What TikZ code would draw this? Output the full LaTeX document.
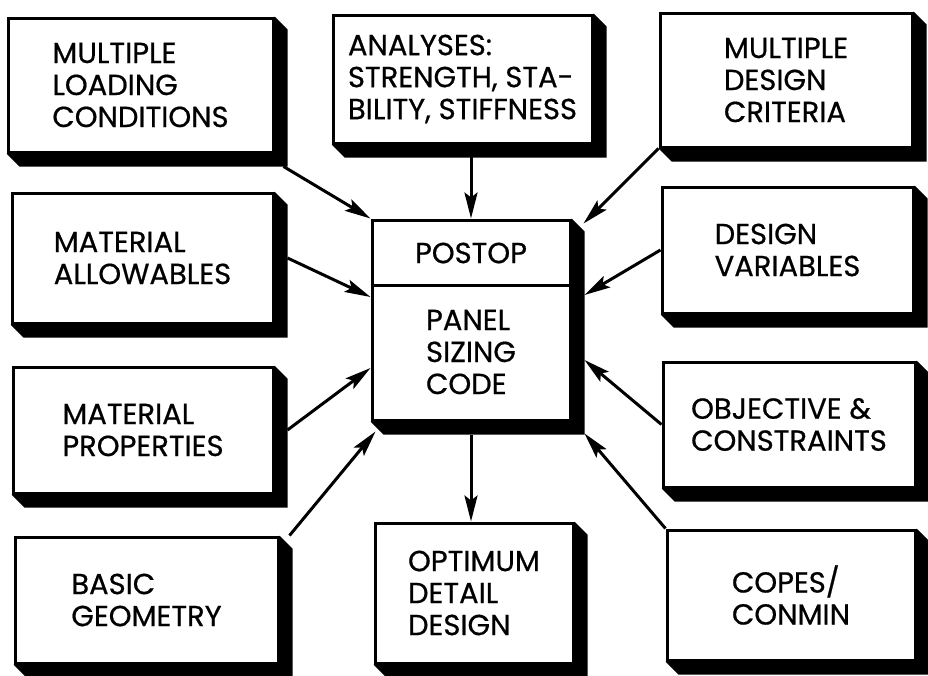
\documentclass[tikz,border=0pt]{standalone}
\usepackage{fontspec}
\setmainfont{Poppins}[FakeBold=0.6]
\usetikzlibrary{arrows.meta,calc,backgrounds}

\begin{document}
\begin{tikzpicture}[x=1pt, y=-1pt,
    box_style/.style={draw, line width=3pt, fill=white, align=left, inner sep=0pt,
        font=\fontsize{29}{32}\selectfont},
    shade_style/.style={fill=black},
    arrow_style/.style={line width=3pt, -{Stealth[length=26pt,width=13pt,inset=5pt]}}
]

    % --- 绘制宏 ---
    \newcommand{\dropbox}[5]{
        \node[box_style, minimum width=#3, minimum height=#4] (#1) at (#2) {#5};
        \fill[shade_style] (#1.north east) -- ++(13,13)
            -- ($(#1.south east)+(13,13)$) -- ($(#1.south west)+(13,13)$)
            -- (#1.south west) -- (#1.south east) -- cycle;
    }

    \useasboundingbox (0,0) rectangle (928,675);

    % --- 左列 ---
    \dropbox{load}{140.5,85}{265pt}{134pt}{MULTIPLE\\LOADING\\CONDITIONS}
    \dropbox{allow}{142.5,258}{261pt}{130pt}{MATERIAL\\ALLOWABLES}
    \dropbox{props}{143,430}{260pt}{126pt}{MATERIAL\\PROPERTIES}
    \dropbox{geom}{146.5,600}{263pt}{126pt}{BASIC\\GEOMETRY}

    % --- 中列 ---
    \dropbox{anal}{462.5,79}{259pt}{128pt}{ANALYSES:\\STRENGTH, STA-\\BILITY, STIFFNESS}
    \dropbox{cen}{471,320}{198pt}{200pt}{}
    \node[font=\fontsize{29}{32}\selectfont] (postop) at (471,253) {POSTOP};
    \node[font=\fontsize{29}{32}\selectfont, align=left] (sizing) at (471,352) {PANEL\\SIZING\\CODE};
    \draw[line width=3pt] ($(cen.north west)+(0,67)$) -- ($(cen.north east)+(0,67)$);
    \dropbox{opt}{474,593}{198pt}{140pt}{OPTIMUM\\DETAIL\\DESIGN}

    % --- 右列 ---
    \dropbox{crit}{786,80}{252pt}{134pt}{MULTIPLE\\DESIGN\\CRITERIA}
    \dropbox{vars}{787.5,250}{251pt}{126pt}{DESIGN\\VARIABLES}
    \dropbox{obj}{789,424.5}{252pt}{125pt}{OBJECTIVE \&\\CONSTRAINTS}
    \dropbox{copes}{791,595}{248pt}{130pt}{COPES/\\CONMIN}

    % --- 箭头 (画在底层) ---
    \begin{pgfonlayer}{background}
        \draw[arrow_style] ($(load.south east)+(9,13)$) -- (cen.north west);
        \draw[arrow_style] (anal.south -| cen.north) -- (cen.north);
        \draw[arrow_style] (crit.south west) -- ($(cen.north east)+(12,5)$);
        \draw[arrow_style] ($(allow.east)+(13,0)$) -- ($(cen.west)+(0,-23)$);
        \draw[arrow_style] (vars.west) -- ($(cen.east)+(13,-25)$);
        \draw[arrow_style] ($(props.east)+(13,0)$) -- ($(cen.west)+(0,48)$);
        \draw[arrow_style] (obj.west) -- ($(cen.east)+(13,40)$);
        \draw[arrow_style] ($(geom.north east)+(10,0)$) -- ($(cen.south west)+(5,10)$);
        \draw[arrow_style] (copes.north west) -- ($(cen.south east)+(13,12)$);
        \draw[arrow_style] ($(cen.south)+(0,13)$) -- (cen.south |- opt.north);
    \end{pgfonlayer}

\end{tikzpicture}
\end{document}
